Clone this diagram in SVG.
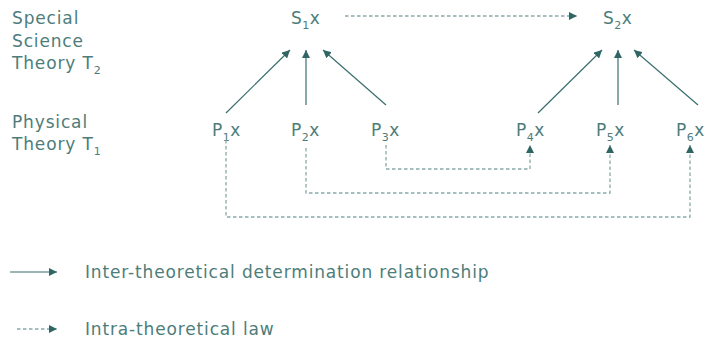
<svg xmlns="http://www.w3.org/2000/svg" width="707" height="341" viewBox="0 0 707 341">
<defs>
<style>
text{font-family:"DejaVu Sans","Liberation Sans",sans-serif;font-size:17px;letter-spacing:0.85px;fill:#4d7d7a}
.node{letter-spacing:0.5px}
.sub{font-size:11px}
.solid{stroke:#3a6f6c;stroke-width:1.2;fill:none}
.dash{stroke:#86aba8;stroke-width:1.3;fill:none;stroke-dasharray:3.5,2.5}
</style>
<marker id="ah" viewBox="0 0 10 10" refX="10" refY="5" markerWidth="8" markerHeight="8" markerUnits="userSpaceOnUse" orient="auto"><path d="M0,0L10,5L0,10z" fill="#2f6664"/></marker>
</defs>
<g id="labels">
<text x="12" y="24">Special</text>
<text x="12" y="47">Science</text>
<text x="12" y="69">Theory T<tspan class="sub" dy="5">2</tspan></text>
<text x="12" y="128">Physical</text>
<text x="12" y="150">Theory T<tspan class="sub" dy="5">1</tspan></text>
</g>
<g id="S1"><text class="node" x="291" y="24">S<tspan class="sub" dy="5">1</tspan><tspan dy="-5">x</tspan></text></g>
<g id="S2"><text class="node" x="603" y="24">S<tspan class="sub" dy="5">2</tspan><tspan dy="-5">x</tspan></text></g>
<g id="P1"><text class="node" x="212" y="136">P<tspan class="sub" dy="5">1</tspan><tspan dy="-5">x</tspan></text></g>
<g id="P2"><text class="node" x="291" y="136">P<tspan class="sub" dy="5">2</tspan><tspan dy="-5">x</tspan></text></g>
<g id="P3"><text class="node" x="371" y="136">P<tspan class="sub" dy="5">3</tspan><tspan dy="-5">x</tspan></text></g>
<g id="P4"><text class="node" x="516" y="136">P<tspan class="sub" dy="5">4</tspan><tspan dy="-5">x</tspan></text></g>
<g id="P5"><text class="node" x="596" y="136">P<tspan class="sub" dy="5">5</tspan><tspan dy="-5">x</tspan></text></g>
<g id="P6"><text class="node" x="676" y="136">P<tspan class="sub" dy="5">6</tspan><tspan dy="-5">x</tspan></text></g>
<g id="connectors">
<line class="solid" x1="226" y1="113" x2="290" y2="50" marker-end="url(#ah)"/>
<line class="solid" x1="306" y1="105" x2="306" y2="50" marker-end="url(#ah)"/>
<line class="solid" x1="386" y1="105" x2="323" y2="50" marker-end="url(#ah)"/>
<line class="solid" x1="538" y1="113" x2="602" y2="50" marker-end="url(#ah)"/>
<line class="solid" x1="618" y1="105" x2="618" y2="50" marker-end="url(#ah)"/>
<line class="solid" x1="698" y1="105" x2="634" y2="50" marker-end="url(#ah)"/>
<line class="dash" x1="345" y1="16" x2="577" y2="16" marker-end="url(#ah)"/>
<polyline class="dash" points="386,145 386,169 530,169 530,145" marker-end="url(#ah)"/>
<polyline class="dash" points="306,148 306,193 610,193 610,145" marker-end="url(#ah)"/>
<polyline class="dash" points="226,140 226,217 690,217 690,145" marker-end="url(#ah)"/>
</g>
<g id="legend">
<line class="solid" x1="10" y1="272" x2="57" y2="272" marker-end="url(#ah)"/>
<text x="85" y="278">Inter-theoretical determination relationship</text>
<line class="dash" x1="17" y1="329" x2="57" y2="329" marker-end="url(#ah)"/>
<text x="85" y="335">Intra-theoretical law</text>
</g>
</svg>
